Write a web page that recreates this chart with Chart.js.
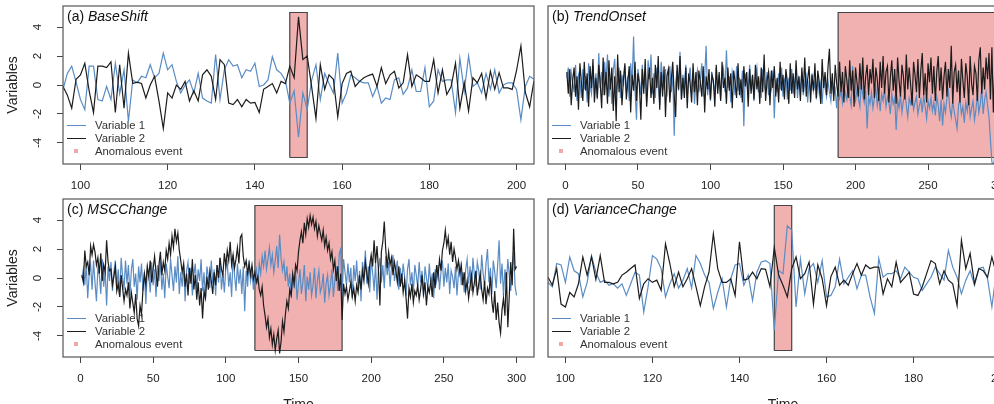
<!DOCTYPE html>
<html>
<head>
<meta charset="utf-8">
<script src="https://cdn.jsdelivr.net/npm/chart.js@4.4.1/dist/chart.umd.min.js"></script>
<style>
  html, body { margin: 0; padding: 0; background: #fff; overflow: hidden; }
  #fig { position: relative; width: 1040px; height: 420px; font-family: 'Liberation Sans', Arial, sans-serif; }
  .panel { position: absolute; }
  .panel canvas { position: absolute; left: 0; top: 0; }
  .tag { position: absolute; font-size: 14px; line-height: 14px; color: #111; white-space: nowrap; }
  .legend { position: absolute; font-size: 11.3px; color: #333; }
  .legend div { position: relative; height: 12.6px; line-height: 12.6px; padding-left: 28px; white-space: nowrap; }
  .legend .ln { position: absolute; left: 0; top: 6px; width: 19px; height: 0; border-top: 1.3px solid; }
  .legend .sq { position: absolute; left: 6.7px; top: 4.3px; width: 4px; height: 4px; background: #f0a8a8; }
</style>
</head>
<body>
<div id="fig"></div>
<script>
const FONT = "'Liberation Sans', Arial, sans-serif";
const BLUE = '#5a8cc4';
const BLACK = '#1c1c1c';

// tick labels
const yTicks = [-4, -2, 0, 2, 4];
const ticksShort = [100, 120, 140, 160, 180, 200];
const ticksLong = [0, 50, 100, 150, 200, 250, 300];
const eventY = [-5, 5];

// (a) BaseShift, t = 96..204
const startA = 96;
const var1A = [
  -0.3, 0.8, 1.3, 0.2, -1.0, -1.7, 1.3, 1.3, -1.0, -1.1,
  -0.1, -1.0, 1.5, -0.6, 1.05, -2.5, 0.35, 0.15, 0.6, 0.5,
  1.4, 0.5, 0.8, 2.2, 1.05, 1.4, 0.25, -0.55, 0.0, 0.35,
  -0.55, 0.8, -0.9, -1.1, -1.25, 2.1, -1.0, 1.05, 1.75, 1.3,
  1.4, 0.5, 1.05, 0.95, 1.5, -0.1, 0.0, 0.35, 1.95, 1.05,
  0.8, 0.3, -1.25, -0.4, -3.6, -0.55, -1.7, 0.3, 1.4, -1.0,
  0.8, 0.1, -0.55, 2.2, -1.25, -0.55, 0.7, 0.5, 0.25, 0.15,
  0.15, -0.8, -0.1, -1.25, -0.9, -1.0, 0.35, 0.5, -0.65, -0.2,
  1.05, -0.45, -0.45, 1.2, -1.5, -1.1, 1.05, 0.25, 0.35, 0.35,
  -1.9, 1.85, -0.45, 2.0, -0.1, 0.15, -0.55, 0.8, -0.3, 1.05,
  -0.55, 0.0, 0.15, 0.15, -0.3, -2.4, -0.1, 0.6, 0.4
];
const var2A = [
  -0.1, -0.7, -1.6, 0.4, 0.7, 1.5, -0.4, -1.9, 1.3, 1.3,
  1.2, 1.6, -1.9, 1.4, -1.6, 2.2, 0.1, 0.2, 0.1, -0.9,
  0.0, 0.6, -1.1, -3.0, -0.55, -0.9, 0.0, -0.3, 0.25, -1.1,
  -0.4, -1.1, 0.7, 1.05, 0.6, -1.0, 1.75, 1.4, -1.25, -1.35,
  -1.0, -1.5, -1.0, -1.25, -1.2, -1.9, -0.3, -0.1, 0.1, -0.55,
  0.25, 0.1, 1.3, 0.5, 4.7, 1.75, 2.0, -0.1, -2.3, 1.4,
  -0.3, 0.7, 0.4, -2.2, 0.1, 0.8, 0.95, -0.1, 0.25, 0.5,
  0.65, 0.75, -0.1, 1.2, 0.1, 0.7, 0.95, -0.2, 0.15, 2.1,
  -0.1, 0.7, 0.5, 0.25, 0.25, 1.75, -0.55, 1.05, -0.65, -0.1,
  1.5, -1.6, 0.15, -1.8, 0.5, 0.15, 0.8, -0.9, 0.95, -0.3,
  0.85, -0.2, -0.2, -0.3, 1.0, 2.7, -0.5, -1.5, 0.3
];
const eventA = [148, 152];

// (b) TrendOnset, t = 1..300
const startB = 1;
const var1B = [
  0.5, 1.2, -0.8, 0.9, 0.2, -0.5, 1.4, -1.1, 0.7, 0.3,
  -0.9, 1.1, -0.3, 0.6, -1.2, 1.5, 0.0, -0.6, 1.3, -0.4,
  0.8, -1.0, 2.2, -0.2, 0.9, -0.7, 1.6, 0.3, 2.1, -0.8,
  0.4, -1.3, 1.0, 1.8, -0.6, 0.2, 1.2, -0.9, 0.7, -0.1,
  1.3, -0.5, 0.6, -1.1, 1.5, 0.1, 3.35, -0.4, -2.4, 1.1,
  0.3, -0.7, 1.4, -0.2, 0.9, -1.2, 1.7, 0.4, 2.1, -0.6,
  0.8, -0.9, 1.2, 0.0, -1.4, 1.6, 0.5, -0.3, 1.1, -0.8,
  0.6, 1.3, -0.5, 0.9, -3.5, 0.2, 1.0, -0.4, 2.3, -1.0,
  0.7, -0.2, 1.4, -0.9, 0.5, 1.2, -0.6, 0.8, -1.3, 0.4,
  1.0, -0.5, 0.3, 1.5, -0.8, 0.6, 2.7, -0.7, 0.2, -1.1,
  0.9, 0.1, -0.6, 1.2, -0.3, 0.7, -1.0, 0.4, 1.1, -0.5,
  2.4, -0.2, 0.6, -1.2, 0.9, 0.3, -0.7, 1.3, -0.4, 0.5,
  -0.9, 1.0, -2.85, 0.8, 0.2, -0.6, 1.4, -0.3, 0.7, -1.1,
  0.5, 1.2, -0.5, 0.3, -0.9, 1.1, 0.0, -0.4, 0.9, -0.7,
  0.6, -0.2, 1.0, -2.3, 0.4, -0.5, 0.8, -0.3, 1.2, -0.8,
  0.3, 0.7, -1.0, 0.5, -0.4, 1.1, -0.6, 0.2, 0.8, -0.9,
  0.4, -0.3, 0.9, -0.7, 0.1, 0.6, -1.2, 0.3, -0.5, 0.8,
  -0.4, 0.2, -1.0, 0.5, -0.6, 0.1, -1.3, 0.4, -0.2, -0.8,
  0.3, -0.5, -1.1, 0.2, -0.7, -0.3, -1.6, 0.1, -0.9, -0.4,
  -1.2, 0.0, -0.6, -1.0, 0.4, -0.8, -1.4, 1.3, -0.5, -1.1,
  -0.3, -0.9, -1.5, 0.2, -0.7, -1.2, -0.4, -3.0, -0.8, -1.3,
  -0.5, -1.6, -0.9, -0.2, -1.4, -0.7, -1.8, -0.6, -1.1, -0.3,
  -1.5, -0.8, -1.2, -2.0, -0.6, -1.3, -0.9, -3.1, -1.0, -1.6,
  -0.7, -1.9, -1.1, -0.5, -1.4, -2.2, -0.9, -1.3, -0.6, -1.7,
  -1.2, -0.8, -2.0, -1.4, -1.0, -1.9, -0.7, -1.5, -2.3, -1.1,
  -1.6, -0.9, -1.8, -1.2, -2.1, -0.8, -1.4, -2.5, -1.0, -2.8,
  -1.3, -1.9, -0.9, -0.4, -1.6, -2.2, -1.1, -1.8, -2.4, -3.0,
  -1.4, -1.0, -2.0, -1.5, -2.6, -1.2, -1.8, -0.8, -2.2, -1.6,
  -1.1, -2.4, -1.7, -0.6, -1.9, -1.3, -0.2, -2.0, -1.0, -0.5,
  -1.4, -2.2, -3.8, -5.3, -5.6, -4.9, -5.5, -5.2, -5.7, -5.4
];
const var2B = [
  0.9, -0.6, 1.1, -1.4, 0.3, 1.2, -0.8, 0.6, -1.7, 1.5,
  0.2, -1.1, 1.6, -0.4, 0.8, -1.5, 1.3, -0.2, 1.8, -1.2,
  0.5, -0.9, 1.4, 0.1, -1.6, 1.9, -0.7, 0.9, -1.3, 1.7,
  -0.3, 1.2, -1.8, 0.6, -2.5, 2.1, -0.5, 1.0, -1.4, 0.4,
  1.5, -1.0, 0.2, 1.3, -1.9, 0.7, -0.4, 1.6, -1.1, 0.8,
  0.0, -2.4, 1.1, -0.6, 1.8, -1.5, 0.3, 1.2, -0.9, 0.5,
  -1.3, 1.4, -0.2, 2.0, -1.7, 0.9, -0.8, 1.3, -2.2, 0.6,
  1.1, -1.2, 0.4, 1.6, -0.7, -2.2, 1.4, -0.3, 2.0, -1.0,
  0.5, -0.9, 1.2, -1.6, 0.8, 0.1, -1.2, 1.5, -0.5, 0.9,
  -1.4, 1.0, 0.2, -0.8, 1.3, -1.9, 0.6, -0.3, 1.1, -1.0,
  0.7, 0.3, -1.5, 1.4, -0.6, 0.9, -1.1, 1.6, -0.2, 0.5,
  -1.3, 1.2, -0.4, 0.8, -1.6, 1.0, 0.2, -0.9, 1.5, -0.7,
  0.4, -1.2, 1.3, -0.1, 0.9, -1.5, 1.1, -0.6, 0.7, -1.0,
  1.4, -0.3, 0.6, -1.3, 1.2, -0.5, 2.1, -1.1, 0.3, 0.9,
  -1.4, 1.0, -0.2, 1.3, -0.8, 0.5, -1.2, 1.6, -0.4, 0.7,
  -1.0, 1.1, 0.2, -1.3, 1.5, -0.6, 0.8, -0.9, 1.7, -0.3,
  0.6, -1.1, 1.2, -0.5, 1.9, -0.8, 0.4, 1.3, -1.2, 0.7,
  -0.4, 1.5, -0.9, 1.0, 0.2, -1.3, 1.8, -0.2, 0.9, -0.7,
  1.2, 2.5, -0.6, 0.8, -1.1, 1.4, 0.1, -0.8, 1.6, -0.5,
  0.9, -1.2, 1.3, 0.3, -0.9, 1.7, -0.4, 1.0, -1.5, 1.2,
  0.2, -0.8, 1.5, -0.3, 1.9, -1.0, 0.6, 1.4, -0.7, 1.1,
  0.1, 1.8, -0.9, 1.2, 0.4, -1.1, 1.6, -0.2, 2.0, -0.6,
  0.9, 1.3, -1.2, 0.5, 1.7, -0.4, 1.1, -1.3, 1.9, 0.3,
  -0.8, 1.4, 0.6, -1.0, 2.1, -0.3, 1.2, 0.0, -1.4, 1.6,
  0.7, -0.5, 1.8, -0.9, 1.0, 2.2, -0.7, 0.8, -1.2, 1.5,
  0.2, 1.9, -0.6, 1.3, -1.1, 0.9, 2.0, -0.4, 1.2, -1.0,
  0.6, 1.6, -0.8, 1.1, -0.2, 2.7, -1.3, 0.9, 1.4, -0.5,
  1.0, -1.2, 1.8, 0.3, -0.9, 1.5, 0.6, -1.4, 2.0, 0.1,
  -0.7, 1.3, 0.8, -1.1, 1.7, 2.6, -0.6, 1.2, -0.3, 1.9,
  0.4, 2.2, -1.0, 2.6, -1.9, 1.1, 2.4, 0.5, 1.8, 1.2
];
const eventB = [188, 300];

// (c) MSCChange, t = 1..300
const startC = 1;
const var1C = [
  0.0, 0.6, -0.5, 1.0, -1.4, 0.3, 0.9, -0.8, 1.2, -0.3,
  -1.6, 0.7, 0.2, -1.1, 1.3, -0.6, 0.5, -1.9, 0.8, -0.2,
  1.1, -0.9, 0.4, 1.2, -0.7, 0.6, -1.3, 1.4, 0.1, -0.8,
  1.2, -0.4, 0.9, -1.2, 0.5, 1.3, -0.6, 0.3, -1.5, 0.8,
  -0.3, 1.0, -0.9, 0.4, -1.8, 0.7, 0.2, -1.0, 1.1, -0.5,
  0.6, -1.3, 0.9, -0.2, 1.2, -0.8, 0.3, -1.4, 1.0, 0.1,
  -0.7, 1.3, 0.2, -0.9, 0.8, -0.3, 1.5, -1.1, 0.4, -0.6,
  0.9, -1.6, 0.5, 1.1, -0.4, 0.7, -1.2, 0.2, 1.0, -0.8,
  0.6, -0.2, 1.3, -0.9, 0.4, -1.5, 0.8, 0.1, -0.7, 1.2,
  -0.4, 0.6, -1.2, 0.9, -0.3, 1.4, -0.8, 0.3, -1.0, 0.7,
  1.1, -0.6, 0.4, -1.3, 1.6, 0.2, -0.9, 1.0, -0.4, 0.6,
  -1.1, 0.8, -2.3, 0.5, -0.6, 1.2, -0.2, 0.4, -0.8, 0.1,
  0.6, -0.4, 1.0, 0.3, 1.5, 0.8, 1.9, 0.6, 1.3, 2.1,
  0.9, 1.6, 0.4, 1.2, 2.2, 0.7, 3.0, 1.4, 0.5, 1.1,
  -0.2, 0.8, -0.6, 0.3, -1.3, 0.2, -0.7, 0.5, -1.5, -0.4,
  0.6, -1.1, -0.3, 0.9, -1.6, 0.1, -0.8, 0.4, -1.2, -0.5,
  0.7, -1.4, -0.2, 0.5, -1.0, -0.6, 0.3, -1.7, -0.4, 0.2,
  -1.2, -0.5, 0.6, -1.3, -0.1, 0.8, -0.9, 1.7, 2.0, -1.3,
  1.3, 0.4, -0.5, 1.0, -0.3, 0.7, -1.4, 0.9, -0.2, 1.2,
  -0.7, 0.5, -1.6, 1.1, 0.2, 1.9, -0.4, 0.8, -1.0, 1.3,
  0.4, -0.9, 1.0, -1.5, 0.6, 1.4, -0.3, 0.9, -0.7, 1.5,
  0.2, 1.1, -0.6, 0.8, 1.6, -0.2, 0.5, 1.2, -0.8, 0.7,
  -0.4, 1.0, 0.1, -1.2, 0.6, 1.3, -0.5, 0.4, -1.0, 0.9,
  0.2, -0.6, 1.1, -0.3, 0.5, -1.3, 0.8, 0.0, -0.7, 1.0,
  -0.5, 0.3, -1.4, 0.6, -0.2, 0.9, -0.8, 0.4, 1.2, -0.6,
  0.7, -0.3, 1.0, -1.1, 0.5, 0.1, -0.7, 0.8, -1.2, 0.3,
  0.9, -0.5, 0.4, -1.0, 0.6, 1.3, -0.4, 0.8, -0.9, 1.4,
  0.2, -0.6, 1.1, 0.5, -0.8, 1.6, 0.3, -0.5, 1.0, 2.0,
  -0.3, 0.7, -1.1, 1.2, 0.4, -0.7, 0.9, 2.6, -0.4, 1.0,
  -1.2, 0.6, -0.5, 1.3, 0.2, -0.9, 0.7, 1.8, -0.6, -1.2
];
const var2C = [
  0.2, -0.3, 1.9, 0.8, 1.1, 0.2, 2.2, 1.6, 2.3, 1.8,
  0.9, 1.4, 0.3, 1.7, -0.2, 0.9, 0.4, 2.6, 1.1, 0.5,
  0.6, -0.5, 0.1, 0.8, -0.9, -0.4, -1.3, 0.2, -0.7, -1.6,
  -0.8, -1.2, -0.3, -2.1, -1.0, -1.7, -2.4, -1.1, -2.8, -3.3,
  -1.9, -2.5, -0.8, 0.3, -0.5, 0.8, 0.1, 1.2, -0.3, 0.6,
  1.5, 0.4, -0.6, 0.9, 1.8, 0.2, 1.1, 0.5, 1.9, 1.3,
  2.4, 1.6, 2.9, 2.1, 3.4, 2.5, 3.1, 1.9, 1.2, 0.4,
  1.0, -0.6, 0.3, -1.2, 0.7, -0.4, 1.3, -0.8, 0.2, -1.5,
  -0.3, -1.9, -0.7, -2.8, -0.9, -1.4, 0.1, -0.8, 0.5, -0.2,
  -1.1, 0.4, -0.5, 0.9, 0.0, 1.4, 0.6, 0.2, 1.7, 0.8,
  1.9, 1.2, 2.5, 0.9, 1.6, 0.7, 1.3, 2.1, 1.0, 2.8,
  3.0, 1.5, 0.8, 1.2, 0.3, 1.0, 0.2, 0.9, -0.1, 0.4,
  -0.3, 0.1, -0.8, -1.2, -0.6, -1.9, -2.6, -3.4, -2.8, -4.1,
  -3.5, -4.6, -3.9, -5.0, -4.2, -3.6, -5.2, -4.4, -3.0, -3.7,
  -2.5, -1.6, -2.1, -0.8, -1.2, 0.3, -0.4, 0.9, 0.5, 1.8,
  2.6, 3.2, 2.4, 3.8, 3.0, 4.1, 3.5, 4.3, 3.7, 4.2,
  3.4, 3.9, 2.9, 3.6, 3.1, 2.6, 3.3, 2.2, 2.8, 1.9,
  2.4, 1.3, 1.8, 0.6, 1.2, -0.2, 0.8, -0.9, 0.3, -2.9,
  -0.4, -1.1, -0.6, -1.5, -0.9, -0.3, -1.3, -0.7, -1.6, -0.5,
  -1.0, 0.2, -0.8, 0.5, -0.2, 1.1, 0.3, -0.4, 0.9, 1.6,
  0.8, 2.6, 1.0, 2.2, 0.6, -1.9, 1.8, 2.5, 3.9, 2.0,
  0.7, 1.8, 0.9, 1.4, 0.2, 1.1, 0.5, -0.3, 0.8, -0.6,
  0.3, -1.0, -0.2, -1.4, -2.8, -0.7, -1.3, -0.4, -1.7, -0.9,
  -1.2, -0.5, -1.5, -0.8, 0.2, -1.1, -0.3, -1.9, -0.6, -1.0,
  -0.2, -1.3, 0.4, -0.7, 0.9, 0.1, 1.3, 0.5, 1.9, 2.4,
  3.3, 2.2, 2.8, 1.6, 2.5, 1.1, 2.0, 1.4, 0.6, 1.2,
  0.3, 0.9, -0.5, 0.4, -0.9, -0.2, -1.4, -0.6, 0.2, -1.0,
  -0.3, 0.5, -1.2, -0.4, 0.3, -0.8, -1.5, -0.2, -1.8, -0.7,
  -1.1, 0.1, -1.6, -2.4, -0.9, -2.9, -1.7, -3.1, -3.8, -2.2,
  -1.4, -2.6, 0.4, -3.4, -1.2, 1.1, -0.5, 3.4, 0.6, 0.8
];
const eventC = [120, 180];

// (d) VarianceChange, t = 96..204
const startD = 96;
const var1D = [
  -0.3, -0.6, 1.0, 0.9, -0.3, 1.45, 0.5, 0.3, -1.3, -0.3,
  1.55, 0.4, -0.3, -0.15, -0.5, -0.4, -0.7, -0.4, -1.2, -0.4,
  0.4, 0.2, -2.35, -0.6, 1.55, 1.3, 0.65, -1.3, -0.4, 0.3,
  -0.7, -0.15, 0.65, -0.7, 1.55, 1.0, 0.2, -0.3, -2.1, -1.0,
  -0.05, -2.0, -0.05, 0.9, 1.0, -0.5, 0.2, -1.55, 0.4, 1.1,
  1.2, 1.0, -3.6, 0.5, 0.3, 3.6, 3.3, -2.0, 1.3, -1.1,
  0.65, 1.0, -0.3, 1.2, -1.3, -1.2, -0.6, 1.3, -0.4, 0.05,
  0.5, -0.75, 0.2, 0.2, -1.3, -2.45, 1.35, 0.05, 0.3, 0.3,
  0.5, -0.05, 0.75, 0.4, 0.05, -0.05, -0.85, -0.4, 0.05, 0.75,
  0.3, -0.15, 1.9, 0.75, 0.05, -1.1, -0.15, 0.5, -0.5, 0.65,
  0.75, -0.05, -2.0, 0.4, -0.6, 0.9, 0.2, -0.3, 0.1
];
const var2D = [
  0.05, -0.5, 0.65, -1.8, -2.0, -1.0, -1.3, -0.4, 1.45, 0.2,
  1.45, -0.1, 1.55, -0.3, -0.3, -0.4, -0.3, 0.2, 0.4, 0.65,
  0.9, -1.4, -0.4, -0.05, -0.3, -0.15, -0.85, 2.35, 1.0, -0.6,
  0.4, -0.6, -0.05, 0.65, -0.6, -1.9, -0.6, 0.4, 3.05, 0.65,
  -0.3, -0.3, -0.05, -1.2, 2.5, -0.15, -0.05, 0.4, -0.05, 0.65,
  0.6, -0.6, 2.1, 0.2, -0.5, -1.3, 0.65, 1.45, -0.05, 0.3,
  1.1, -1.8, 0.9, -0.05, -1.9, 0.1, 0.75, -0.5, -0.15, -0.5,
  0.3, 1.0, 0.2, 0.9, 0.65, 0.75, 0.75, -1.1, -0.05, -0.6,
  1.1, -0.3, 0.05, 0.4, -1.1, -1.2, -0.6, 0.3, 1.2, 1.0,
  -0.4, 0.5, -0.15, -0.4, -1.9, 2.6, 0.65, 1.7, -0.4, 0.65,
  0.5, 0.05, 1.45, 0.3, -0.6, 0.9, -0.2, 0.5, -0.8
];
const eventD = [148, 152];

function toPoints(start, vals) {
  return vals.map((v, i) => ({x: start + i, y: v}));
}

const boxPlugin = {
  id: 'box',
  afterDatasetsDraw(chart) {
    const a = chart.chartArea;
    const ctx = chart.ctx;
    ctx.save();
    ctx.strokeStyle = '#555';
    ctx.lineWidth = 1.2;
    ctx.strokeRect(a.left, a.top, a.right - a.left, a.bottom - a.top);
    ctx.restore();
  }
};

function makePanel(p) {
  const fig = document.getElementById('fig');
  const wrap = document.createElement('div');
  wrap.className = 'panel';
  wrap.style.left = p.left + 'px';
  wrap.style.top = p.top + 'px';
  wrap.style.width = p.width + 'px';
  wrap.style.height = p.height + 'px';
  const canvas = document.createElement('canvas');
  canvas.width = p.width;
  canvas.height = p.height;
  canvas.style.width = p.width + 'px';
  canvas.style.height = p.height + 'px';
  wrap.appendChild(canvas);
  fig.appendChild(wrap);

  const ev = p.event;
  const outline = [
    {x: ev[0], y: eventY[0]}, {x: ev[0], y: eventY[1]},
    {x: ev[1], y: eventY[1]}, {x: ev[1], y: eventY[0]}, {x: ev[0], y: eventY[0]}
  ];

  const chart = new Chart(canvas.getContext('2d'), {
    type: 'line',
    data: {
      datasets: [
        {label: 'Variable 1', data: toPoints(p.start, p.v1), borderColor: BLUE, borderWidth: 1.2, pointRadius: 0, fill: false, order: 3},
        {label: 'Variable 2', data: toPoints(p.start, p.v2), borderColor: BLACK, borderWidth: 1.2, pointRadius: 0, fill: false, order: 2},
        // the event area sits under the two series
        {label: 'Anomalous event', data: [{x: ev[0], y: eventY[1]}, {x: ev[1], y: eventY[1]}],
          fill: {value: eventY[0]}, backgroundColor: '#f1b1b1', borderWidth: 0, pointRadius: 0, order: 5},
        {label: 'event box', data: outline, borderColor: '#444', borderWidth: 1.2, pointRadius: 0, fill: false, order: 4}
      ]
    },
    options: {
      responsive: false,
      maintainAspectRatio: false,
      animation: false,
      devicePixelRatio: 1,
      layout: {padding: {top: p.padTop, right: p.padRight, left: 0, bottom: 0}},
      plugins: {legend: {display: false}, tooltip: {enabled: false}},
      scales: {
        x: {
          type: 'linear',
          min: p.xmin,
          max: p.xmax,
          afterBuildTicks: s => { s.ticks = p.xticks.map(v => ({value: v})); },
          afterFit: s => { s.height = p.xHeight; s.paddingLeft = 0; s.paddingRight = 0; },
          grid: {display: true, drawOnChartArea: false, drawTicks: true, tickLength: 6, color: '#444', tickColor: '#444'},
          border: {display: false},
          ticks: {color: '#222', font: {family: FONT, size: 11.5}, padding: 9, maxRotation: 0, autoSkip: false},
          title: {display: p.showTime, text: 'Time', color: '#222', font: {family: FONT, size: 14}, padding: {top: 0, bottom: 3.4}}
        },
        y: {
          type: 'linear',
          min: -5.45,
          max: 5.45,
          afterBuildTicks: s => { s.ticks = yTicks.map(v => ({value: v})); },
          afterFit: s => { s.width = p.showY ? 63 : 7; s.paddingTop = 0; s.paddingBottom = 0; },
          grid: {display: p.showY, drawOnChartArea: false, drawTicks: true, tickLength: 6, color: '#444', tickColor: '#444'},
          border: {display: false},
          ticks: {display: p.showY, color: '#222', font: {family: FONT, size: 11.5}, padding: 14,
            minRotation: 90, maxRotation: 90, crossAlign: 'center'},
          title: {display: p.showY, text: 'Variables', color: '#222', font: {family: FONT, size: 14}, padding: {top: 4.6, bottom: 0}}
        }
      }
    },
    plugins: [boxPlugin]
  });

  const a = chart.chartArea;
  const tag = document.createElement('div');
  tag.className = 'tag';
  tag.style.left = (a.left + 4) + 'px';
  tag.style.top = (a.top + 3.2) + 'px';
  tag.innerHTML = p.tag + ' <i>' + p.name + '</i>';
  wrap.appendChild(tag);

  const lg = document.createElement('div');
  lg.className = 'legend';
  lg.style.left = (a.left + 4) + 'px';
  lg.style.top = (a.top + 113.4) + 'px';
  lg.innerHTML =
    '<div><span class="ln" style="border-color:' + BLUE + '"></span>Variable 1</div>' +
    '<div><span class="ln" style="border-color:' + BLACK + '"></span>Variable 2</div>' +
    '<div><span class="sq"></span>Anomalous event</div>';
  wrap.appendChild(lg);
}

makePanel({left: 0, top: 0, width: 541, height: 197, padTop: 6, padRight: 7, xHeight: 33,
  tag: '(a)', name: 'BaseShift', start: startA, v1: var1A, v2: var2A, event: eventA,
  xmin: 96, xmax: 204, xticks: ticksShort, showY: true, showTime: false});
makePanel({left: 541, top: 0, width: 490, height: 197, padTop: 6, padRight: 13, xHeight: 33,
  tag: '(b)', name: 'TrendOnset', start: startB, v1: var1B, v2: var2B, event: eventB,
  xmin: -12, xmax: 312, xticks: ticksLong, showY: false, showTime: false});
makePanel({left: 0, top: 197, width: 541, height: 220, padTop: 2, padRight: 7, xHeight: 60,
  tag: '(c)', name: 'MSCChange', start: startC, v1: var1C, v2: var2C, event: eventC,
  xmin: -12, xmax: 312, xticks: ticksLong, showY: true, showTime: true});
makePanel({left: 541, top: 197, width: 490, height: 220, padTop: 2, padRight: 13, xHeight: 60,
  tag: '(d)', name: 'VarianceChange', start: startD, v1: var1D, v2: var2D, event: eventD,
  xmin: 96, xmax: 204, xticks: ticksShort, showY: false, showTime: true});
</script>
</body>
</html>
